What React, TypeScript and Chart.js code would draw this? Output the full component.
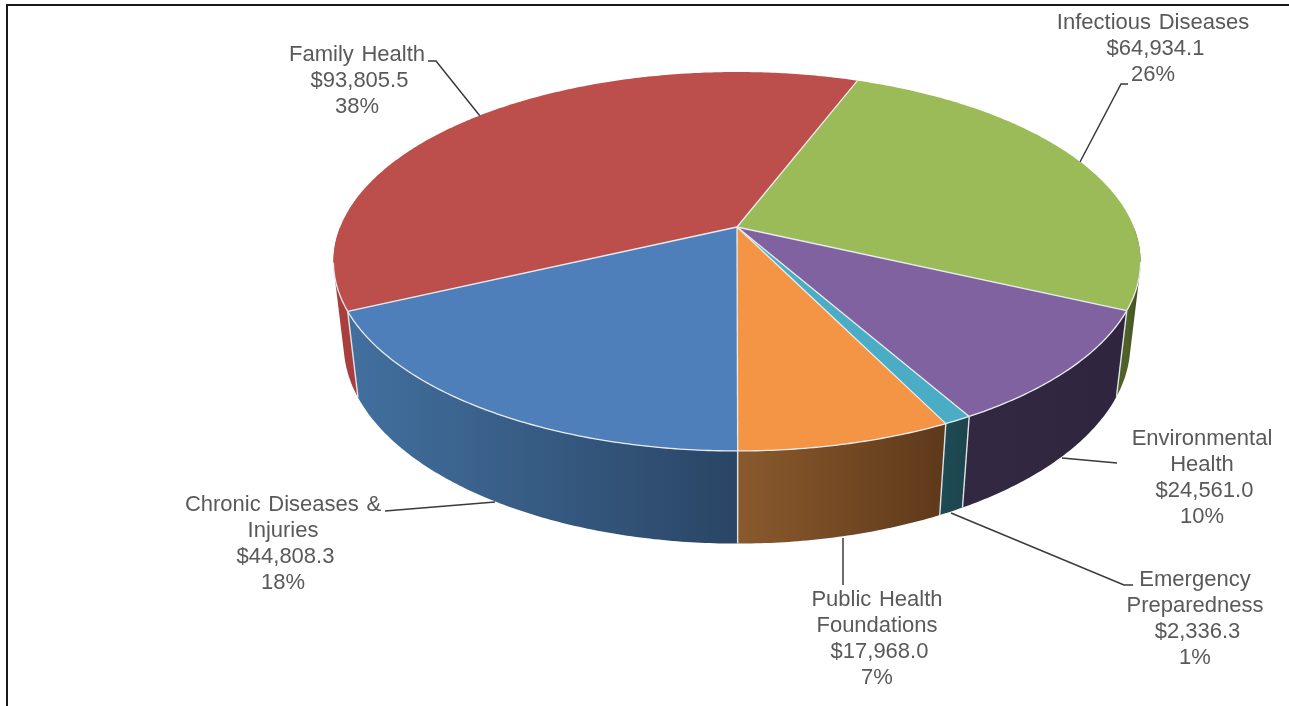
import React, { useEffect, useRef } from "react";
import { Chart, registerables } from "chart.js";

Chart.register(...registerables);

const categories = [
  "Infectious Diseases",
  "Environmental Health",
  "Emergency Preparedness",
  "Public Health Foundations",
  "Chronic Diseases & Injuries",
  "Family Health",
];
const values = [64934.1, 24561.0, 2336.3, 17968.0, 44808.3, 93805.5];
const percents = ["26%", "10%", "1%", "7%", "18%", "38%"];
const topColors = ["#9BBB59", "#8062A0", "#4BACC6", "#F39545", "#4E7FBB", "#BC4E4B"];
const wallLeft = ["#4F6128", "#322842", "#1E4A54", "#8A5A2D", "#42709F", "#A83F3C"];
const wallRight = ["#3F4F20", "#30253E", "#1C444E", "#5E391A", "#2A4565", "#A83F3C"];
const labelLines = [
  ["Infectious Diseases"],
  ["Environmental", "Health"],
  ["Emergency", "Preparedness"],
  ["Public Health", "Foundations"],
  ["Chronic Diseases &", "Injuries"],
  ["Family Health"],
];
const labelAnchors = [
  [1153, 23],
  [1202, 439],
  [1195, 580],
  [877, 600],
  [283, 505],
  [357, 55],
];
const leaders = [
  [[1128, 84], [1121, 84], [1080, 162]],
  [[1117, 463], [1062, 458]],
  [[1133, 585], [1124, 585], [951, 513]],
  [[843, 538], [843, 585]],
  [[385, 511], [495, 502]],
  [[428, 61], [436, 61], [480, 116]],
];

// Perspective of the tilted disc
const CX = 737, CY = 227, RX = 396.8, RY = 183.2, K = 0.182, DEPTH = 83.7, M = 0.025;
const project = (a: number, z: number): [number, number] => {
  const x = Math.cos(a), y = Math.sin(a);
  const w = 1 - K * y + M * z;
  return [CX + (RX * x) / w, CY + (RY * y + DEPTH * z) / w];
};

const money = (v: number) =>
  "$" + v.toLocaleString("en-US", { minimumFractionDigits: 1, maximumFractionDigits: 1 });

const pie3d = {
  id: "pie3d",
  beforeDatasetsDraw(chart: any) {
    const ctx: CanvasRenderingContext2D = chart.ctx;
    const arcs = chart.getDatasetMeta(0).data;
    ctx.save();

    // frame
    ctx.strokeStyle = "#1a1a1a";
    ctx.lineWidth = 2;
    ctx.beginPath();
    ctx.moveTo(7, 706);
    ctx.lineTo(7, 5);
    ctx.lineTo(1289, 5);
    ctx.stroke();

    // leader lines
    ctx.strokeStyle = "#3a3a3a";
    ctx.lineWidth = 1.5;
    leaders.forEach((pts) => {
      ctx.beginPath();
      pts.forEach((p, i) => (i ? ctx.lineTo(p[0], p[1]) : ctx.moveTo(p[0], p[1])));
      ctx.stroke();
    });

    // side walls: the strips facing the viewer, filled as one path per slice
    arcs.forEach((arc: any, i: number) => {
      const s = arc.startAngle, e = arc.endAngle;
      const n = Math.max(2, Math.ceil((e - s) / 0.01));
      const angles: number[] = [];
      for (let j = 0; j <= n; j++) {
        const a = s + ((e - s) * j) / n;
        if (Math.sin(a) > 0) angles.push(a);
      }
      if (angles.length < 2) return;
      const xs = angles.map((a) => project(a, 0)[0]);
      const g = ctx.createLinearGradient(Math.min(...xs), 0, Math.max(...xs), 0);
      g.addColorStop(0, wallLeft[i]);
      g.addColorStop(1, wallRight[i]);
      ctx.fillStyle = g;
      ctx.beginPath();
      for (let j = 0; j + 1 < angles.length; j++) {
        let q = [
          project(angles[j], 0),
          project(angles[j + 1], 0),
          project(angles[j + 1], 1),
          project(angles[j], 1),
        ];
        let area = 0;
        q.forEach((p, k) => {
          const r = q[(k + 1) % 4];
          area += p[0] * r[1] - r[0] * p[1];
        });
        if (area < 0) q = q.reverse();
        q.forEach((p, k) => (k ? ctx.lineTo(p[0], p[1]) : ctx.moveTo(p[0], p[1])));
        ctx.closePath();
      }
      ctx.fill("nonzero");
    });

    // vertical wall edges
    ctx.strokeStyle = "#dfe3e6";
    ctx.lineWidth = 1.4;
    arcs.forEach((arc: any) => {
      if (Math.sin(arc.startAngle) < 0) return;
      const t = project(arc.startAngle, 0), b = project(arc.startAngle, 1);
      ctx.beginPath();
      ctx.moveTo(t[0], t[1]);
      ctx.lineTo(b[0], b[1]);
      ctx.stroke();
    });

    // top faces
    arcs.forEach((arc: any, i: number) => {
      const s = arc.startAngle, e = arc.endAngle;
      const n = Math.max(4, Math.ceil((e - s) / 0.01));
      ctx.beginPath();
      ctx.moveTo(CX, CY);
      for (let j = 0; j <= n; j++) {
        const p = project(s + ((e - s) * j) / n, 0);
        ctx.lineTo(p[0], p[1]);
      }
      ctx.closePath();
      ctx.fillStyle = topColors[i];
      ctx.fill();
    });
    ctx.strokeStyle = "#e9ecee";
    ctx.lineWidth = 1.3;
    arcs.forEach((arc: any) => {
      const s = arc.startAngle, e = arc.endAngle;
      const n = Math.max(4, Math.ceil((e - s) / 0.01));
      const p0 = project(s, 0);
      ctx.beginPath();
      ctx.moveTo(CX, CY);
      ctx.lineTo(p0[0], p0[1]);
      ctx.stroke();
      ctx.beginPath();
      for (let j = 0; j <= n; j++) {
        const a = s + ((e - s) * j) / n;
        if (Math.sin(a) < 0.18) continue;
        const p = project(a, 0);
        ctx.lineTo(p[0], p[1]);
      }
      ctx.stroke();
    });

    // labels
    ctx.fillStyle = "#595959";
    ctx.font = '22px "Liberation Sans", Arial, sans-serif';
    ctx.textBaseline = "middle";
    ctx.textAlign = "center";
    (ctx as any).wordSpacing = "1.5px";
    categories.forEach((_, i) => {
      const [ax, ay] = labelAnchors[i];
      const names = labelLines[i];
      names.forEach((t, l) => ctx.fillText(t, ax, ay + l * 26));
      ctx.fillText(money(values[i]), ax + 2.5, ay + names.length * 26);
      ctx.fillText(percents[i], ax, ay + (names.length + 1) * 26);
    });
    ctx.restore();
    return false;
  },
};

export default function App() {
  const ref = useRef<HTMLCanvasElement>(null);
  useEffect(() => {
    const chart = new Chart(ref.current as HTMLCanvasElement, {
      type: "pie",
      data: {
        labels: categories,
        datasets: [{ data: values, backgroundColor: topColors }],
      },
      options: {
        animation: false,
        responsive: false,
        rotation: 20.8,
        events: [],
        plugins: { legend: { display: false }, tooltip: { enabled: false } },
      },
      plugins: [pie3d],
    } as any);
    return () => chart.destroy();
  }, []);
  return (
    <canvas
      ref={ref}
      width={1289}
      height={706}
      style={{ position: "fixed", left: 0, top: 0, display: "block", background: "#fff" }}
    />
  );
}
